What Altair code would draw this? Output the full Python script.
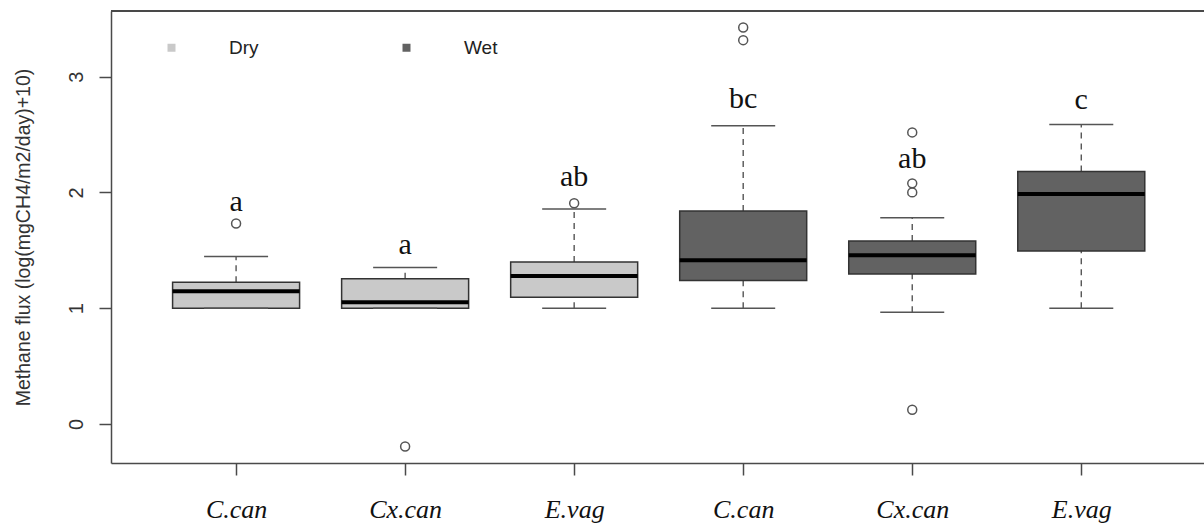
import json
import altair as alt
import pandas as pd

# Methane flux by species and season: five-number summaries plus outliers
species = ["C.can", "Cx.can", "E.vag", "C.can", "Cx.can", "E.vag"]
season = ["Dry", "Dry", "Dry", "Wet", "Wet", "Wet"]
whisker_low = [1.00, 1.00, 1.00, 1.00, 0.965, 1.00]
q1 = [1.00, 1.00, 1.095, 1.24, 1.295, 1.495]
median = [1.146, 1.052, 1.278, 1.415, 1.458, 1.987]
q3 = [1.224, 1.255, 1.399, 1.841, 1.581, 2.181]
whisker_high = [1.448, 1.353, 1.858, 2.576, 1.781, 2.587]
outliers = [[1.732], [-0.194], [1.907], [3.425, 3.316], [2.519, 2.079, 2.001, 0.123], []]
letters = ["a", "a", "ab", "bc", "ab", "c"]
letter_y = [1.92, 1.55, 2.136, 2.808, 2.293, 2.802]
y_ticks = [0, 1, 2, 3]

W, H = 1093, 452

boxes = pd.DataFrame({
    "pos": list(range(1, len(species) + 1)),
    "species": species,
    "season": season,
    "lo": whisker_low,
    "q1": q1,
    "med": median,
    "q3": q3,
    "hi": whisker_high,
    "letter": letters,
    "letter_y": letter_y,
})
out_df = pd.DataFrame(
    [{"pos": i + 1, "v": v} for i, vals in enumerate(outliers) for v in vals]
)

frame_col = "#4a4a4a"
label_expr = "%s[datum.value - 1]" % json.dumps(species)

x_enc = alt.X(
    "pos:Q",
    scale=alt.Scale(domain=[0.26, 6.726], nice=False, zero=False, padding=0),
    axis=alt.Axis(
        values=list(range(1, len(species) + 1)),
        labelExpr=label_expr,
        title="",
        grid=False,
        domainColor=frame_col,
        domainWidth=1.5,
        tickColor=frame_col,
        tickWidth=1.5,
        tickSize=12,
        labelFont="Liberation Serif",
        labelFontStyle="italic",
        labelFontSize=26,
        labelColor="#111",
        labelBaseline="alphabetic",
        labelPadding=42,
        labelOverlap=False,
        labelFlush=False,
    ),
)

y_scale = alt.Scale(domain=[-0.337, 3.568], nice=False, zero=False, padding=0)
y_axis = alt.Axis(
    values=y_ticks,
    title="Methane flux (log(mgCH4/m2/day)+10)",
    grid=False,
    domainColor=frame_col,
    domainWidth=1.5,
    tickColor=frame_col,
    tickWidth=1.5,
    tickSize=12,
    labelAngle=270,
    labelAlign="center",
    labelBaseline="alphabetic",
    labelPadding=17,
    labelFont="Liberation Sans",
    labelFontSize=20,
    labelColor="#333",
    titleFont="Liberation Sans",
    titleFontSize=19.5,
    titleFontWeight="normal",
    titleColor="#333",
    titleAngle=270,
    titleAlign="center",
    titleBaseline="middle",
    titleX=-88,
    titleY=H / 2,
)


def yq(field):
    return alt.Y(field, type="quantitative", scale=y_scale, axis=y_axis)


base = alt.Chart(boxes)

whisk_up = base.mark_rule(color="#555", strokeWidth=1.4, strokeDash=[6, 5]).encode(
    x=x_enc, y=yq("q3"), y2="hi"
)
whisk_dn = base.mark_rule(color="#555", strokeWidth=1.4, strokeDash=[6, 5]).encode(
    x=x_enc, y=yq("lo"), y2="q1"
)
cap_hi = base.mark_tick(
    orient="horizontal", size=64, thickness=1.5, color="#555", opacity=1
).encode(x=x_enc, y=yq("hi"))
cap_lo = base.mark_tick(
    orient="horizontal", size=64, thickness=1.5, color="#555", opacity=1
).encode(x=x_enc, y=yq("lo"))
box = base.mark_bar(size=127, stroke="#333", strokeWidth=1.5, opacity=1).encode(
    x=x_enc,
    y=yq("q1"),
    y2="q3",
    color=alt.Color(
        "season:N",
        scale=alt.Scale(domain=["Dry", "Wet"], range=["#c9c9c9", "#626262"]),
        title=None,
        legend=alt.Legend(
            orient="none",
            legendX=51,
            legendY=27,
            direction="horizontal",
            symbolType="square",
            symbolSize=64,
            symbolStrokeWidth=0,
            symbolOpacity=1,
            labelFont="Liberation Sans",
            labelFontSize=19,
            labelColor="#222",
            labelOffset=48,
            columnPadding=138,
            padding=0,
        ),
    ),
)
med = base.mark_tick(
    orient="horizontal", size=127, thickness=4, color="#000", opacity=1
).encode(x=x_enc, y=yq("med"))
pts = alt.Chart(out_df).mark_point(
    shape="circle", filled=False, size=80, color="#555", strokeWidth=1.5, opacity=1
).encode(x=x_enc, y=yq("v"))
txt = base.mark_text(
    font="Liberation Serif", fontSize=30, baseline="middle", align="center", color="#111"
).encode(x=x_enc, y=yq("letter_y"), text="letter:N")
top = base.mark_rule(color=frame_col, strokeWidth=1.5).encode(
    x=alt.value(0), x2=alt.value(W), y=alt.value(0)
)

chart = (
    alt.layer(whisk_up, whisk_dn, box, med, cap_hi, cap_lo, pts, txt, top)
    .properties(
        width=W,
        height=H,
        autosize=alt.AutoSizeParams(type="none"),
        padding={"left": 111, "top": 11, "right": 0, "bottom": 64},
        background="white",
    )
    .configure_view(stroke=None)
)

chart.save("out.html", embed_options={"renderer": "svg", "actions": False})
